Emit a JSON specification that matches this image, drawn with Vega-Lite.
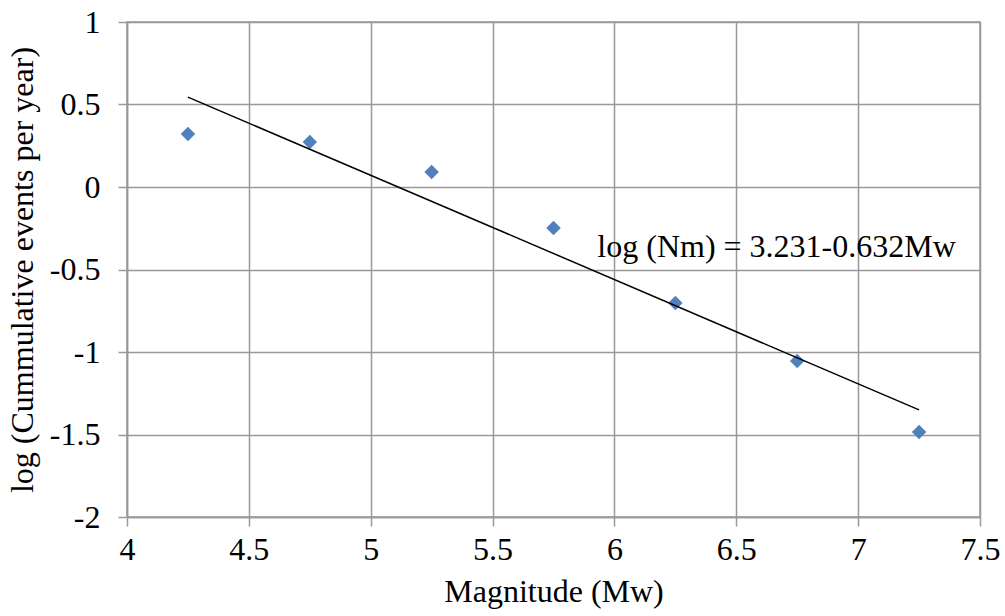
{
  "$schema": "https://vega.github.io/schema/vega-lite/v6.json",
  "width": 853,
  "height": 495,
  "autosize": "none",
  "padding": {"left": 127, "top": 22, "right": 25, "bottom": 99},
  "background": "white",
  "config": {
    "view": {"stroke": "#999999", "strokeWidth": 1.5},
    "font": "Liberation Serif",
    "style": {
      "guide-label": {"font": "Liberation Serif", "fontSize": 32, "fill": "black"},
      "guide-title": {"font": "Liberation Serif", "fontSize": 32, "fill": "black", "fontWeight": "normal"}
    },
    "axis": {
      "labelFont": "Liberation Serif",
      "titleFont": "Liberation Serif",
      "labelFontSize": 32,
      "titleFontSize": 32,
      "labelColor": "black",
      "titleColor": "black",
      "titleFontWeight": "normal",
      "gridColor": "#999999",
      "gridWidth": 1.5,
      "gridOpacity": 1,
      "domainColor": "#999999",
      "domainWidth": 1.5,
      "tickColor": "#999999",
      "tickWidth": 1.5,
      "tickSize": 9
    }
  },
  "datasets": {
    "obs": [
      {"Mw": 4.25, "logN": 0.321},
      {"Mw": 4.75, "logN": 0.273},
      {"Mw": 5.25, "logN": 0.091},
      {"Mw": 5.75, "logN": -0.248},
      {"Mw": 6.25, "logN": -0.703},
      {"Mw": 6.75, "logN": -1.055},
      {"Mw": 7.25, "logN": -1.485}
    ],
    "fit": [
      {"Mw": 4.25, "logN": 0.545},
      {"Mw": 7.25, "logN": -1.351}
    ],
    "label": [
      {"Mw": 5.93, "logN": -0.424, "txt": "log (Nm) = 3.231-0.632Mw"}
    ]
  },
  "layer": [
    {
      "data": {"name": "obs"},
      "mark": {"type": "point", "shape": "diamond", "filled": true, "size": 210, "color": "#4F81BD", "opacity": 1},
      "encoding": {
        "x": {
          "field": "Mw", "type": "quantitative",
          "scale": {"domain": [4, 7.5], "nice": false, "zero": false},
          "axis": {"title": "Magnitude (Mw)", "values": [4, 4.5, 5, 5.5, 6, 6.5, 7, 7.5], "labelExpr": "'' + datum.value", "labelFontSize": 32, "labelPadding": 8, "titleAnchor": "middle", "titlePadding": 11, "labelFlush": false}
        },
        "y": {
          "field": "logN", "type": "quantitative",
          "scale": {"domain": [-2, 1], "nice": false, "zero": false},
          "axis": {"title": "log (Cummulative events per year)", "values": [-2, -1.5, -1, -0.5, 0, 0.5, 1], "labelExpr": "'' + datum.value", "labelFontSize": 32, "labelPadding": 18, "titlePadding": 10, "labelFlush": false}
        }
      }
    },
    {
      "data": {"name": "fit"},
      "mark": {"type": "line", "color": "black", "strokeWidth": 1.5},
      "encoding": {
        "x": {"field": "Mw", "type": "quantitative"},
        "y": {"field": "logN", "type": "quantitative"}
      }
    },
    {
      "data": {"name": "label"},
      "mark": {"type": "text", "align": "left", "baseline": "alphabetic", "fontSize": 32, "font": "Liberation Serif", "color": "black"},
      "encoding": {
        "x": {"field": "Mw", "type": "quantitative"},
        "y": {"field": "logN", "type": "quantitative"},
        "text": {"field": "txt"}
      }
    }
  ]
}
